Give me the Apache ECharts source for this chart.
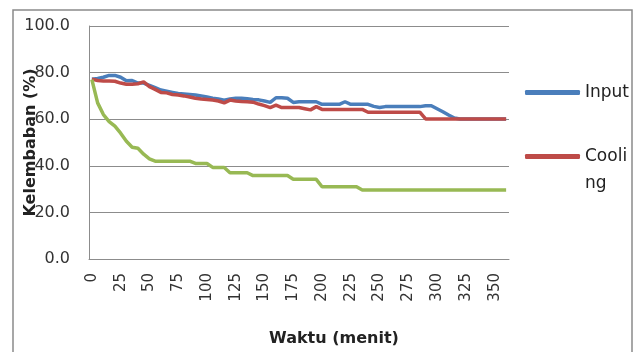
<!DOCTYPE html>
<html>
<head>
<meta charset="utf-8">
<script src="https://cdn.jsdelivr.net/npm/echarts@6/dist/echarts.min.js"></script>
<style>
  html, body { margin: 0; padding: 0; background: #fff; }
  #chart { width: 635px; height: 352px; }
</style>
</head>
<body>
<div id="chart"></div>
<script>
// waktu dalam menit, tiap 5 menit
const minutes = [];
for (let m = 0; m <= 360; m += 5) minutes.push(String(m));

const yTicks = [0, 20, 40, 60, 80, 100];

// kelembaban (%)
const inputData = [
  77.2, 77.5, 78, 78.8, 78.8, 78, 76.5, 76.6, 75.5, 75.5,
  74.5, 73.5, 72.5, 72, 71.5, 71, 70.8, 70.6, 70.4, 70,
  69.5, 69, 68.7, 68.2, 68.7, 69, 69, 68.8, 68.5, 68.3,
  67.8, 67.2, 69.2, 69.2, 69, 67.2, 67.5, 67.5, 67.5, 67.5,
  66.4, 66.4, 66.4, 66.4, 67.5, 66.4, 66.4, 66.4, 66.4, 65.5,
  65, 65.4, 65.4, 65.4, 65.4, 65.4, 65.4, 65.4, 65.8, 65.8,
  64.5, 63.2, 61.8, 60.5, 60.1, 60.1, 60.1, 60.1, 60.1, 60.1,
  60.1, 60.1, 60.1
];

const coolingData = [
  77.2, 76.6, 76.4, 76.4, 76.3, 75.5, 75, 75, 75.2, 76,
  74, 72.8, 71.5, 71.3, 70.6, 70.4, 70, 69.5, 69, 68.7,
  68.5, 68.2, 67.8, 67, 68.2, 67.8, 67.6, 67.5, 67.3, 66.5,
  65.8, 65, 66, 65, 65, 65, 65, 64.5, 64, 65.4,
  64.2, 64.2, 64.2, 64.2, 64.2, 64.2, 64.2, 64.2, 63, 63,
  63, 63, 63, 63, 63, 63, 63, 63, 60.1, 60.1,
  60.1, 60.1, 60.1, 60.1, 60.1, 60.1, 60.1, 60.1, 60.1, 60.1,
  60.1, 60.1, 60.1
];

const thirdData = [
  77, 67, 62, 59, 57, 54, 50.5, 48, 47.5, 45,
  43, 42, 42, 42, 42, 42, 42, 42, 41, 41,
  41, 39.3, 39.3, 39.3, 37, 37, 37, 37, 35.8, 35.8,
  35.8, 35.8, 35.8, 35.8, 35.8, 34.2, 34.2, 34.2, 34.2, 34.2,
  31, 31, 31, 31, 31, 31, 31, 29.6, 29.6, 29.6,
  29.6, 29.6, 29.6, 29.6, 29.6, 29.6, 29.6, 29.6, 29.6, 29.6,
  29.6, 29.6, 29.6, 29.6, 29.6, 29.6, 29.6, 29.6, 29.6, 29.6,
  29.6, 29.6, 29.6
];

const chart = echarts.init(document.getElementById('chart'));
const axisGray = '#8c8c8c';
const font = 'DejaVu Sans';

const option = {
  animation: false,
  backgroundColor: '#fff',
  graphic: [{
    type: 'rect',
    shape: { x: 13, y: 10, width: 619, height: 350 },
    style: { fill: 'none', stroke: '#8a8a8a', lineWidth: 1.5 },
    silent: true
  }],
  grid: { left: 89, right: 126, top: 26, bottom: 93, outerBoundsMode: 'none', containLabel: false },
  legend: {
    orient: 'vertical',
    left: 520,
    top: 74,
    itemGap: 10,
    itemWidth: 55,
    itemHeight: 5,
    icon: 'roundRect',
    textStyle: { fontFamily: font, fontSize: 17, color: '#222', lineHeight: 27 },
    data: ['Input', 'Cooling'],
    // baris kosong di atas supaya ikon sejajar dengan "Cooli"
    formatter: name => name === 'Cooling' ? ' \nCooli\nng' : name
  },
  xAxis: {
    type: 'category',
    data: minutes,
    boundaryGap: true,
    name: 'Waktu (menit)',
    nameLocation: 'middle',
    nameGap: 72,
    nameMoveOverlap: false,
    nameTextStyle: {
      fontFamily: font, fontSize: 16, fontWeight: 'bold', color: '#222',
      padding: [0, 0, 0, 70]
    },
    axisLine: { lineStyle: { color: axisGray, width: 1 } },
    axisTick: { show: false },
    axisLabel: {
      interval: 4,
      rotate: 90,
      margin: 14,
      fontFamily: font,
      fontSize: 15,
      color: '#333'
    },
    splitLine: { show: false }
  },
  yAxis: {
    type: 'value',
    min: yTicks[0],
    max: yTicks[yTicks.length - 1],
    interval: 20,
    name: 'Kelembaban (%)',
    nameLocation: 'middle',
    nameRotate: 90,
    nameGap: 50,
    nameMoveOverlap: false,
    nameTextStyle: { fontFamily: font, fontSize: 16, fontWeight: 'bold', color: '#222' },
    axisLine: { show: true, lineStyle: { color: axisGray, width: 1 } },
    axisTick: { show: false },
    axisLabel: {
      margin: 19,
      fontFamily: font,
      fontSize: 16,
      color: '#333',
      formatter: v => v.toFixed(1)
    },
    splitLine: { lineStyle: { color: axisGray, width: 1 } }
  },
  series: [
    {
      name: 'Input',
      type: 'line',
      data: inputData,
      symbol: 'none',
      lineStyle: { color: '#4a7ebb', width: 3.5 },
      itemStyle: { color: '#4a7ebb' }
    },
    {
      name: 'Cooling',
      type: 'line',
      data: coolingData,
      symbol: 'none',
      lineStyle: { color: '#be4b48', width: 3.5 },
      itemStyle: { color: '#be4b48' }
    },
    {
      name: 'Third',
      type: 'line',
      data: thirdData,
      symbol: 'none',
      lineStyle: { color: '#98b954', width: 3.5 },
      itemStyle: { color: '#98b954' }
    }
  ]
};

chart.setOption(option);
</script>
</body>
</html>
